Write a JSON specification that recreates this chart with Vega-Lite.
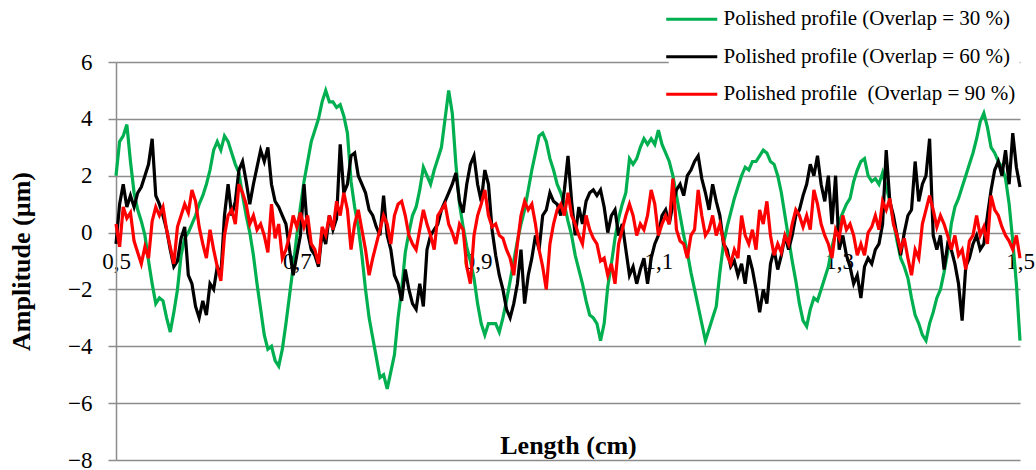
{
"$schema": "https://vega.github.io/schema/vega-lite/v6.json",
"width": 904, "height": 398,
"autosize": {"type": "none"},
"padding": {"left": 116, "top": 62, "right": 16, "bottom": 10},
"background": "white",
"config": {"view": {"stroke": null}, "font": "Liberation Serif"},
"data": {"values": [
{"x":0.5,"g":2.0,"b":-0.4,"r":0.3},{"x":0.504,"g":3.2,"b":1.0,"r":-0.5},{"x":0.508,"g":3.4,"b":1.7,"r":0.9},{"x":0.512,"g":3.8,"b":0.9,"r":0.5},{"x":0.516,"g":2.5,"b":1.3,"r":0.7},
{"x":0.52,"g":1.4,"b":0.9,"r":-0.3},{"x":0.524,"g":0.8,"b":1.4,"r":-0.7},{"x":0.528,"g":0.4,"b":1.6,"r":-1.1},{"x":0.532,"g":-0.1,"b":2.0,"r":-0.5},{"x":0.536,"g":-1.0,"b":2.4,"r":-0.9},
{"x":0.54,"g":-1.8,"b":3.3,"r":0.4},{"x":0.544,"g":-2.5,"b":1.3,"r":0.9},{"x":0.548,"g":-2.3,"b":1.0,"r":0.6},{"x":0.552,"g":-2.4,"b":0.6,"r":0.9},{"x":0.556,"g":-3.0,"b":0.1,"r":0.1},
{"x":0.56,"g":-3.5,"b":-0.6,"r":-0.5},{"x":0.564,"g":-2.8,"b":-1.2,"r":-1.1},{"x":0.568,"g":-2.0,"b":-1.0,"r":0.2},{"x":0.572,"g":-0.8,"b":-0.2,"r":0.6},{"x":0.576,"g":-0.2,"b":0.2,"r":1.0},
{"x":0.58,"g":0.0,"b":-1.5,"r":0.7},{"x":0.584,"g":0.3,"b":-1.8,"r":1.5},{"x":0.588,"g":0.6,"b":-2.6,"r":1.1},{"x":0.592,"g":1.0,"b":-3.0,"r":0.2},{"x":0.596,"g":1.3,"b":-2.4,"r":-0.4},
{"x":0.6,"g":1.7,"b":-2.9,"r":-0.9},{"x":0.604,"g":2.2,"b":-1.8,"r":0.1},{"x":0.608,"g":2.9,"b":-2.0,"r":-0.6},{"x":0.612,"g":3.2,"b":-1.2,"r":-1.2},{"x":0.616,"g":2.9,"b":-1.5,"r":-1.7},
{"x":0.62,"g":3.4,"b":0.6,"r":-0.1},{"x":0.624,"g":3.2,"b":1.7,"r":0.6},{"x":0.628,"g":2.8,"b":0.6,"r":0.8},{"x":0.632,"g":2.4,"b":1.1,"r":0.3},{"x":0.636,"g":2.1,"b":2.2,"r":1.7},
{"x":0.64,"g":1.3,"b":2.5,"r":1.4},{"x":0.644,"g":0.6,"b":1.8,"r":1.0},{"x":0.648,"g":0.0,"b":1.0,"r":0.3},{"x":0.652,"g":-0.8,"b":1.7,"r":0.6},{"x":0.656,"g":-1.8,"b":2.3,"r":0.1},
{"x":0.66,"g":-2.7,"b":2.9,"r":0.3},{"x":0.664,"g":-3.6,"b":2.5,"r":-0.1},{"x":0.668,"g":-4.1,"b":3.0,"r":-0.7},{"x":0.672,"g":-4.0,"b":1.7,"r":1.0},{"x":0.676,"g":-4.5,"b":1.1,"r":-0.2},
{"x":0.68,"g":-4.7,"b":0.9,"r":0.3},{"x":0.684,"g":-4.1,"b":0.6,"r":-0.9},{"x":0.688,"g":-3.2,"b":0.3,"r":-0.6},{"x":0.692,"g":-2.2,"b":-0.6,"r":-0.1},{"x":0.696,"g":-1.2,"b":-1.5,"r":0.6},
{"x":0.7,"g":-0.1,"b":-0.8,"r":0.2},{"x":0.704,"g":0.9,"b":-0.1,"r":0.7},{"x":0.708,"g":1.8,"b":1.7,"r":0.2},{"x":0.712,"g":2.5,"b":0.0,"r":0.6},{"x":0.716,"g":3.2,"b":-0.6,"r":-0.4},
{"x":0.72,"g":3.6,"b":-0.8,"r":-0.6},{"x":0.724,"g":4.0,"b":-1.2,"r":-1.1},{"x":0.728,"g":4.6,"b":0.0,"r":0.2},{"x":0.732,"g":5.0,"b":-0.4,"r":-0.1},{"x":0.736,"g":4.6,"b":0.6,"r":0.6},
{"x":0.74,"g":4.6,"b":0.1,"r":0.1},{"x":0.744,"g":4.4,"b":0.5,"r":1.1},{"x":0.748,"g":4.5,"b":3.1,"r":0.6},{"x":0.752,"g":4.1,"b":1.4,"r":1.4},{"x":0.756,"g":3.5,"b":1.7,"r":0.8},
{"x":0.76,"g":1.8,"b":2.7,"r":-0.6},{"x":0.764,"g":0.9,"b":2.8,"r":0.3},{"x":0.768,"g":0.2,"b":2.0,"r":0.8},{"x":0.772,"g":-0.8,"b":1.7,"r":0.1},{"x":0.776,"g":-2.0,"b":1.4,"r":-0.6},
{"x":0.78,"g":-3.0,"b":0.8,"r":-1.5},{"x":0.784,"g":-3.7,"b":0.6,"r":-0.9},{"x":0.788,"g":-4.4,"b":0.2,"r":-0.4},{"x":0.792,"g":-5.1,"b":-0.1,"r":0.1},{"x":0.796,"g":-5.0,"b":1.3,"r":0.6},
{"x":0.8,"g":-5.5,"b":-0.1,"r":0.3},{"x":0.804,"g":-4.9,"b":-0.6,"r":-0.4},{"x":0.808,"g":-4.3,"b":-1.5,"r":0.6},{"x":0.812,"g":-3.0,"b":-1.8,"r":1.0},{"x":0.816,"g":-2.0,"b":-2.4,"r":1.1},
{"x":0.82,"g":-0.7,"b":-1.3,"r":0.6},{"x":0.824,"g":0.0,"b":-2.0,"r":-0.1},{"x":0.828,"g":0.6,"b":-2.5,"r":-0.4},{"x":0.832,"g":0.9,"b":-2.7,"r":-0.6},{"x":0.836,"g":1.5,"b":-1.8,"r":0.1},
{"x":0.84,"g":2.3,"b":-2.6,"r":0.8},{"x":0.844,"g":2.0,"b":-0.6,"r":0.3},{"x":0.848,"g":1.7,"b":-0.1,"r":-0.1},{"x":0.852,"g":2.2,"b":0.1,"r":-0.6},{"x":0.856,"g":2.6,"b":0.3,"r":0.6},
{"x":0.86,"g":3.0,"b":0.8,"r":0.8},{"x":0.864,"g":4.0,"b":1.1,"r":1.0},{"x":0.868,"g":5.0,"b":1.4,"r":0.3},{"x":0.872,"g":4.2,"b":1.7,"r":0.0},{"x":0.876,"g":2.4,"b":2.1,"r":-0.4},
{"x":0.88,"g":1.0,"b":1.1,"r":0.3},{"x":0.884,"g":0.2,"b":0.7,"r":0.1},{"x":0.888,"g":-0.5,"b":1.7,"r":-1.2},{"x":0.892,"g":-1.0,"b":2.4,"r":-1.8},{"x":0.896,"g":-1.6,"b":2.7,"r":-0.1},
{"x":0.9,"g":-2.5,"b":1.7,"r":0.6},{"x":0.904,"g":-3.2,"b":1.1,"r":1.0},{"x":0.908,"g":-3.6,"b":2.2,"r":1.5},{"x":0.912,"g":-3.2,"b":1.7,"r":0.6},{"x":0.916,"g":-3.2,"b":0.1,"r":0.2},
{"x":0.92,"g":-3.2,"b":-0.8,"r":0.3},{"x":0.924,"g":-3.5,"b":-1.5,"r":-0.1},{"x":0.928,"g":-3.0,"b":-2.0,"r":-0.2},{"x":0.932,"g":-2.4,"b":-2.7,"r":-0.6},{"x":0.936,"g":-1.7,"b":-3.0,"r":-0.9},
{"x":0.94,"g":-1.0,"b":-2.5,"r":-1.5},{"x":0.944,"g":-0.3,"b":-1.8,"r":-0.4},{"x":0.948,"g":0.3,"b":-0.6,"r":0.6},{"x":0.952,"g":0.8,"b":-2.5,"r":1.1},{"x":0.956,"g":1.5,"b":-1.5,"r":0.8},
{"x":0.96,"g":2.2,"b":-0.9,"r":1.0},{"x":0.964,"g":2.8,"b":-0.1,"r":0.3},{"x":0.968,"g":3.4,"b":-0.6,"r":-0.6},{"x":0.972,"g":3.5,"b":0.6,"r":-1.2},{"x":0.976,"g":3.2,"b":0.8,"r":-2.0},
{"x":0.98,"g":2.6,"b":1.4,"r":-0.4},{"x":0.984,"g":2.2,"b":1.1,"r":0.3},{"x":0.988,"g":1.7,"b":1.0,"r":0.8},{"x":0.992,"g":1.4,"b":0.6,"r":1.0},{"x":0.996,"g":1.0,"b":1.5,"r":0.6},
{"x":1.0,"g":0.4,"b":2.7,"r":1.4},{"x":1.004,"g":-0.1,"b":1.1,"r":0.6},{"x":1.008,"g":-0.8,"b":-0.1,"r":0.3},{"x":1.012,"g":-1.3,"b":0.9,"r":-0.1},{"x":1.016,"g":-1.8,"b":0.3,"r":-0.4},
{"x":1.02,"g":-2.4,"b":1.1,"r":0.6},{"x":1.024,"g":-2.9,"b":1.4,"r":0.1},{"x":1.028,"g":-3.0,"b":1.5,"r":-0.2},{"x":1.032,"g":-3.2,"b":1.3,"r":-0.4},{"x":1.036,"g":-3.8,"b":1.5,"r":-1.0},
{"x":1.04,"g":-3.2,"b":0.9,"r":-0.9},{"x":1.044,"g":-1.9,"b":0.0,"r":-1.5},{"x":1.048,"g":-1.1,"b":0.6,"r":-1.1},{"x":1.052,"g":-0.2,"b":0.8,"r":-1.8},{"x":1.056,"g":0.5,"b":-0.1,"r":-0.4},
{"x":1.06,"g":1.0,"b":0.3,"r":0.1},{"x":1.064,"g":1.4,"b":-0.6,"r":0.6},{"x":1.068,"g":2.6,"b":-1.5,"r":1.0},{"x":1.072,"g":2.4,"b":-1.2,"r":0.6},{"x":1.076,"g":2.6,"b":-1.8,"r":-0.1},
{"x":1.08,"g":3.0,"b":-1.3,"r":0.3},{"x":1.084,"g":3.3,"b":-0.9,"r":0.1},{"x":1.088,"g":3.1,"b":-1.8,"r":0.6},{"x":1.092,"g":3.3,"b":-0.9,"r":1.5},{"x":1.096,"g":3.1,"b":-0.4,"r":1.0},
{"x":1.1,"g":3.6,"b":-0.1,"r":-0.1},{"x":1.104,"g":3.1,"b":0.6,"r":0.3},{"x":1.108,"g":2.8,"b":0.8,"r":0.6},{"x":1.112,"g":2.5,"b":0.3,"r":0.3},{"x":1.116,"g":2.0,"b":1.0,"r":1.9},
{"x":1.12,"g":1.3,"b":1.5,"r":0.1},{"x":1.124,"g":0.6,"b":1.7,"r":-0.3},{"x":1.128,"g":-0.1,"b":1.3,"r":-0.4},{"x":1.132,"g":-0.7,"b":2.0,"r":-0.9},{"x":1.136,"g":-1.4,"b":2.2,"r":-0.1},
{"x":1.14,"g":-2.0,"b":2.5,"r":0.1},{"x":1.144,"g":-2.6,"b":2.7,"r":1.5},{"x":1.148,"g":-3.2,"b":1.9,"r":0.6},{"x":1.152,"g":-3.8,"b":1.4,"r":-0.1},{"x":1.156,"g":-3.4,"b":0.8,"r":0.1},
{"x":1.16,"g":-3.0,"b":1.7,"r":0.6},{"x":1.164,"g":-2.6,"b":1.1,"r":-0.1},{"x":1.168,"g":-1.4,"b":0.6,"r":0.3},{"x":1.172,"g":-0.4,"b":-0.4,"r":-0.3},{"x":1.176,"g":0.2,"b":-0.6,"r":-0.8},
{"x":1.18,"g":0.7,"b":-1.2,"r":-1.1},{"x":1.184,"g":1.2,"b":-1.0,"r":-0.6},{"x":1.188,"g":1.6,"b":-1.5,"r":-0.9},{"x":1.192,"g":2.0,"b":-1.1,"r":0.6},{"x":1.196,"g":2.3,"b":-1.8,"r":-0.1},
{"x":1.2,"g":2.2,"b":-0.8,"r":-0.4},{"x":1.204,"g":2.5,"b":-1.3,"r":0.1},{"x":1.208,"g":2.5,"b":-2.0,"r":-0.6},{"x":1.212,"g":2.7,"b":-2.8,"r":0.8},{"x":1.216,"g":2.9,"b":-2.0,"r":0.3},
{"x":1.22,"g":2.8,"b":-2.5,"r":1.1},{"x":1.224,"g":2.5,"b":-1.1,"r":-0.1},{"x":1.228,"g":2.4,"b":-0.6,"r":-0.8},{"x":1.232,"g":2.0,"b":-1.3,"r":-0.4},{"x":1.236,"g":1.4,"b":-0.8,"r":-0.7},
{"x":1.24,"g":0.6,"b":-0.1,"r":-0.1},{"x":1.244,"g":-0.2,"b":-0.6,"r":-0.4},{"x":1.248,"g":-1.0,"b":-0.1,"r":0.3},{"x":1.252,"g":-1.7,"b":0.6,"r":0.8},{"x":1.256,"g":-2.5,"b":0.8,"r":0.6},
{"x":1.26,"g":-3.1,"b":1.3,"r":0.2},{"x":1.264,"g":-3.3,"b":1.7,"r":0.6},{"x":1.268,"g":-2.7,"b":2.4,"r":0.1},{"x":1.272,"g":-2.3,"b":2.0,"r":1.5},{"x":1.276,"g":-2.4,"b":2.7,"r":1.0},
{"x":1.28,"g":-2.0,"b":1.7,"r":0.3},{"x":1.284,"g":-1.6,"b":1.1,"r":-0.1},{"x":1.288,"g":-1.2,"b":2.0,"r":-0.4},{"x":1.292,"g":-0.5,"b":0.3,"r":-0.9},{"x":1.296,"g":0.0,"b":2.0,"r":0.1},
{"x":1.3,"g":0.4,"b":-0.6,"r":-0.2},{"x":1.304,"g":0.7,"b":-0.1,"r":0.6},{"x":1.308,"g":1.0,"b":-0.8,"r":0.1},{"x":1.312,"g":1.2,"b":-1.2,"r":0.3},{"x":1.316,"g":1.8,"b":-1.8,"r":-0.1},
{"x":1.32,"g":2.2,"b":-1.5,"r":-0.8},{"x":1.324,"g":2.5,"b":-2.3,"r":-0.4},{"x":1.328,"g":2.6,"b":-1.2,"r":-0.8},{"x":1.332,"g":2.0,"b":-0.9,"r":0.0},{"x":1.336,"g":1.8,"b":-1.1,"r":0.2},
{"x":1.34,"g":1.9,"b":-0.6,"r":0.6},{"x":1.344,"g":1.7,"b":-0.4,"r":0.1},{"x":1.348,"g":2.1,"b":0.3,"r":1.1},{"x":1.352,"g":1.6,"b":2.9,"r":0.8},{"x":1.356,"g":1.1,"b":1.1,"r":1.2},
{"x":1.36,"g":0.4,"b":0.6,"r":0.3},{"x":1.364,"g":-0.3,"b":-0.1,"r":-0.1},{"x":1.368,"g":-0.9,"b":-0.8,"r":-0.6},{"x":1.372,"g":-1.2,"b":0.0,"r":-0.2},{"x":1.376,"g":-1.6,"b":0.6,"r":-0.9},
{"x":1.38,"g":-2.3,"b":0.8,"r":-1.5},{"x":1.384,"g":-2.9,"b":2.5,"r":-0.6},{"x":1.388,"g":-3.2,"b":1.1,"r":-0.9},{"x":1.392,"g":-3.6,"b":1.7,"r":0.3},{"x":1.396,"g":-3.8,"b":2.0,"r":0.8},
{"x":1.4,"g":-3.2,"b":3.3,"r":1.3},{"x":1.404,"g":-2.8,"b":-0.1,"r":0.8},{"x":1.408,"g":-2.3,"b":-0.6,"r":0.2},{"x":1.412,"g":-2.0,"b":-0.1,"r":0.6},{"x":1.416,"g":-1.4,"b":-1.3,"r":0.3},
{"x":1.42,"g":-0.7,"b":-0.4,"r":-0.1},{"x":1.424,"g":0.3,"b":-0.6,"r":-0.6},{"x":1.428,"g":0.9,"b":-1.1,"r":-0.1},{"x":1.432,"g":1.2,"b":-1.8,"r":-0.8},{"x":1.436,"g":1.6,"b":-3.1,"r":-0.6},
{"x":1.44,"g":2.0,"b":-1.2,"r":-1.3},{"x":1.444,"g":2.4,"b":-0.9,"r":-0.3},{"x":1.448,"g":2.8,"b":-0.4,"r":-0.1},{"x":1.452,"g":3.3,"b":-0.1,"r":0.6},{"x":1.456,"g":3.9,"b":-0.6,"r":-0.1},
{"x":1.46,"g":4.2,"b":-0.4,"r":0.2},{"x":1.464,"g":3.7,"b":0.6,"r":-0.4},{"x":1.468,"g":3.0,"b":1.5,"r":1.3},{"x":1.472,"g":2.8,"b":2.2,"r":0.8},{"x":1.476,"g":2.5,"b":2.5,"r":0.6},
{"x":1.48,"g":2.3,"b":2.0,"r":0.2},{"x":1.484,"g":1.9,"b":2.9,"r":-0.1},{"x":1.488,"g":1.0,"b":1.7,"r":-0.3},{"x":1.492,"g":-0.3,"b":3.5,"r":-0.6},{"x":1.496,"g":-1.8,"b":2.3,"r":-0.1},
{"x":1.5,"g":-3.8,"b":1.6,"r":-0.9}
]},
"transform": [{"fold": ["g", "b", "r"], "as": ["s", "y"]}],
"encoding": {
  "x": {"field": "x", "type": "quantitative",
    "scale": {"domain": [0.5, 1.5], "nice": false, "zero": false},
    "axis": {"values": [0.5, 0.7, 0.9, 1.1, 1.3, 1.5],
      "labelExpr": "replace(format(datum.value, '.1f'), '.', ',')",
      "offset": -227.4, "grid": false, "ticks": false, "domain": false,
      "labelFont": "Liberation Serif", "labelFontSize": 23, "labelColor": "#000",
      "labelPadding": 18, "labelFlush": false, "labelOverlap": false, "labelBound": false,
      "title": "Length (cm)", "titleFont": "Liberation Serif", "titleFontSize": 26,
      "titleFontWeight": "bold", "titleColor": "#000", "titleY": 213, "titleBaseline": "middle"}},
  "y": {"field": "y", "type": "quantitative",
    "scale": {"domain": [-8, 6], "nice": false, "zero": false},
    "axis": {"values": [-8, -6, -4, -2, 0, 2, 4, 6], "grid": true,
      "gridColor": "#8c8c8c", "gridWidth": 1.5,
      "domainColor": "#8c8c8c", "domainWidth": 1.5,
      "tickColor": "#8c8c8c", "tickSize": 8, "tickWidth": 1.5,
      "labelFont": "Liberation Serif", "labelFontSize": 23, "labelColor": "#000",
      "labelPadding": 16, "labelFlush": false, "labelOverlap": false,
      "title": "Amplitude (µm)", "titleFont": "Liberation Serif", "titleFontSize": 26,
      "titleFontWeight": "bold", "titleColor": "#000", "titleX": -95, "titleBaseline": "middle"}},
  "color": {"field": "s", "type": "nominal",
    "scale": {"domain": ["g", "b", "r"], "range": ["#00B050", "#000000", "#FF0000"]},
    "legend": {"orient": "none", "legendX": 552.75, "legendY": -65.75, "title": null,
      "labelExpr": "datum.value == 'g' ? 'Polished profile (Overlap = 30 %)' : datum.value == 'b' ? 'Polished profile (Overlap = 60 %)' : 'Polished profile\u00a0 (Overlap = 90 %)'",
      "symbolType": "M-1.48,0H1.48", "symbolSize": 1190, "symbolStrokeWidth": 3,
      "labelFont": "Liberation Serif", "labelFontSize": 21, "labelColor": "#000",
      "labelOffset": 12.75, "rowPadding": 8.5, "padding": 4, "fillColor": "white",
      "direction": "vertical", "labelLimit": 400}}
},
"layer": [
  {"transform": [{"filter": "datum.s == 'g'"}], "mark": {"type": "line", "strokeWidth": 3.2}},
  {"transform": [{"filter": "datum.s == 'b'"}], "mark": {"type": "line", "strokeWidth": 3.2}},
  {"transform": [{"filter": "datum.s == 'r'"}], "mark": {"type": "line", "strokeWidth": 3.2}}
]
}
